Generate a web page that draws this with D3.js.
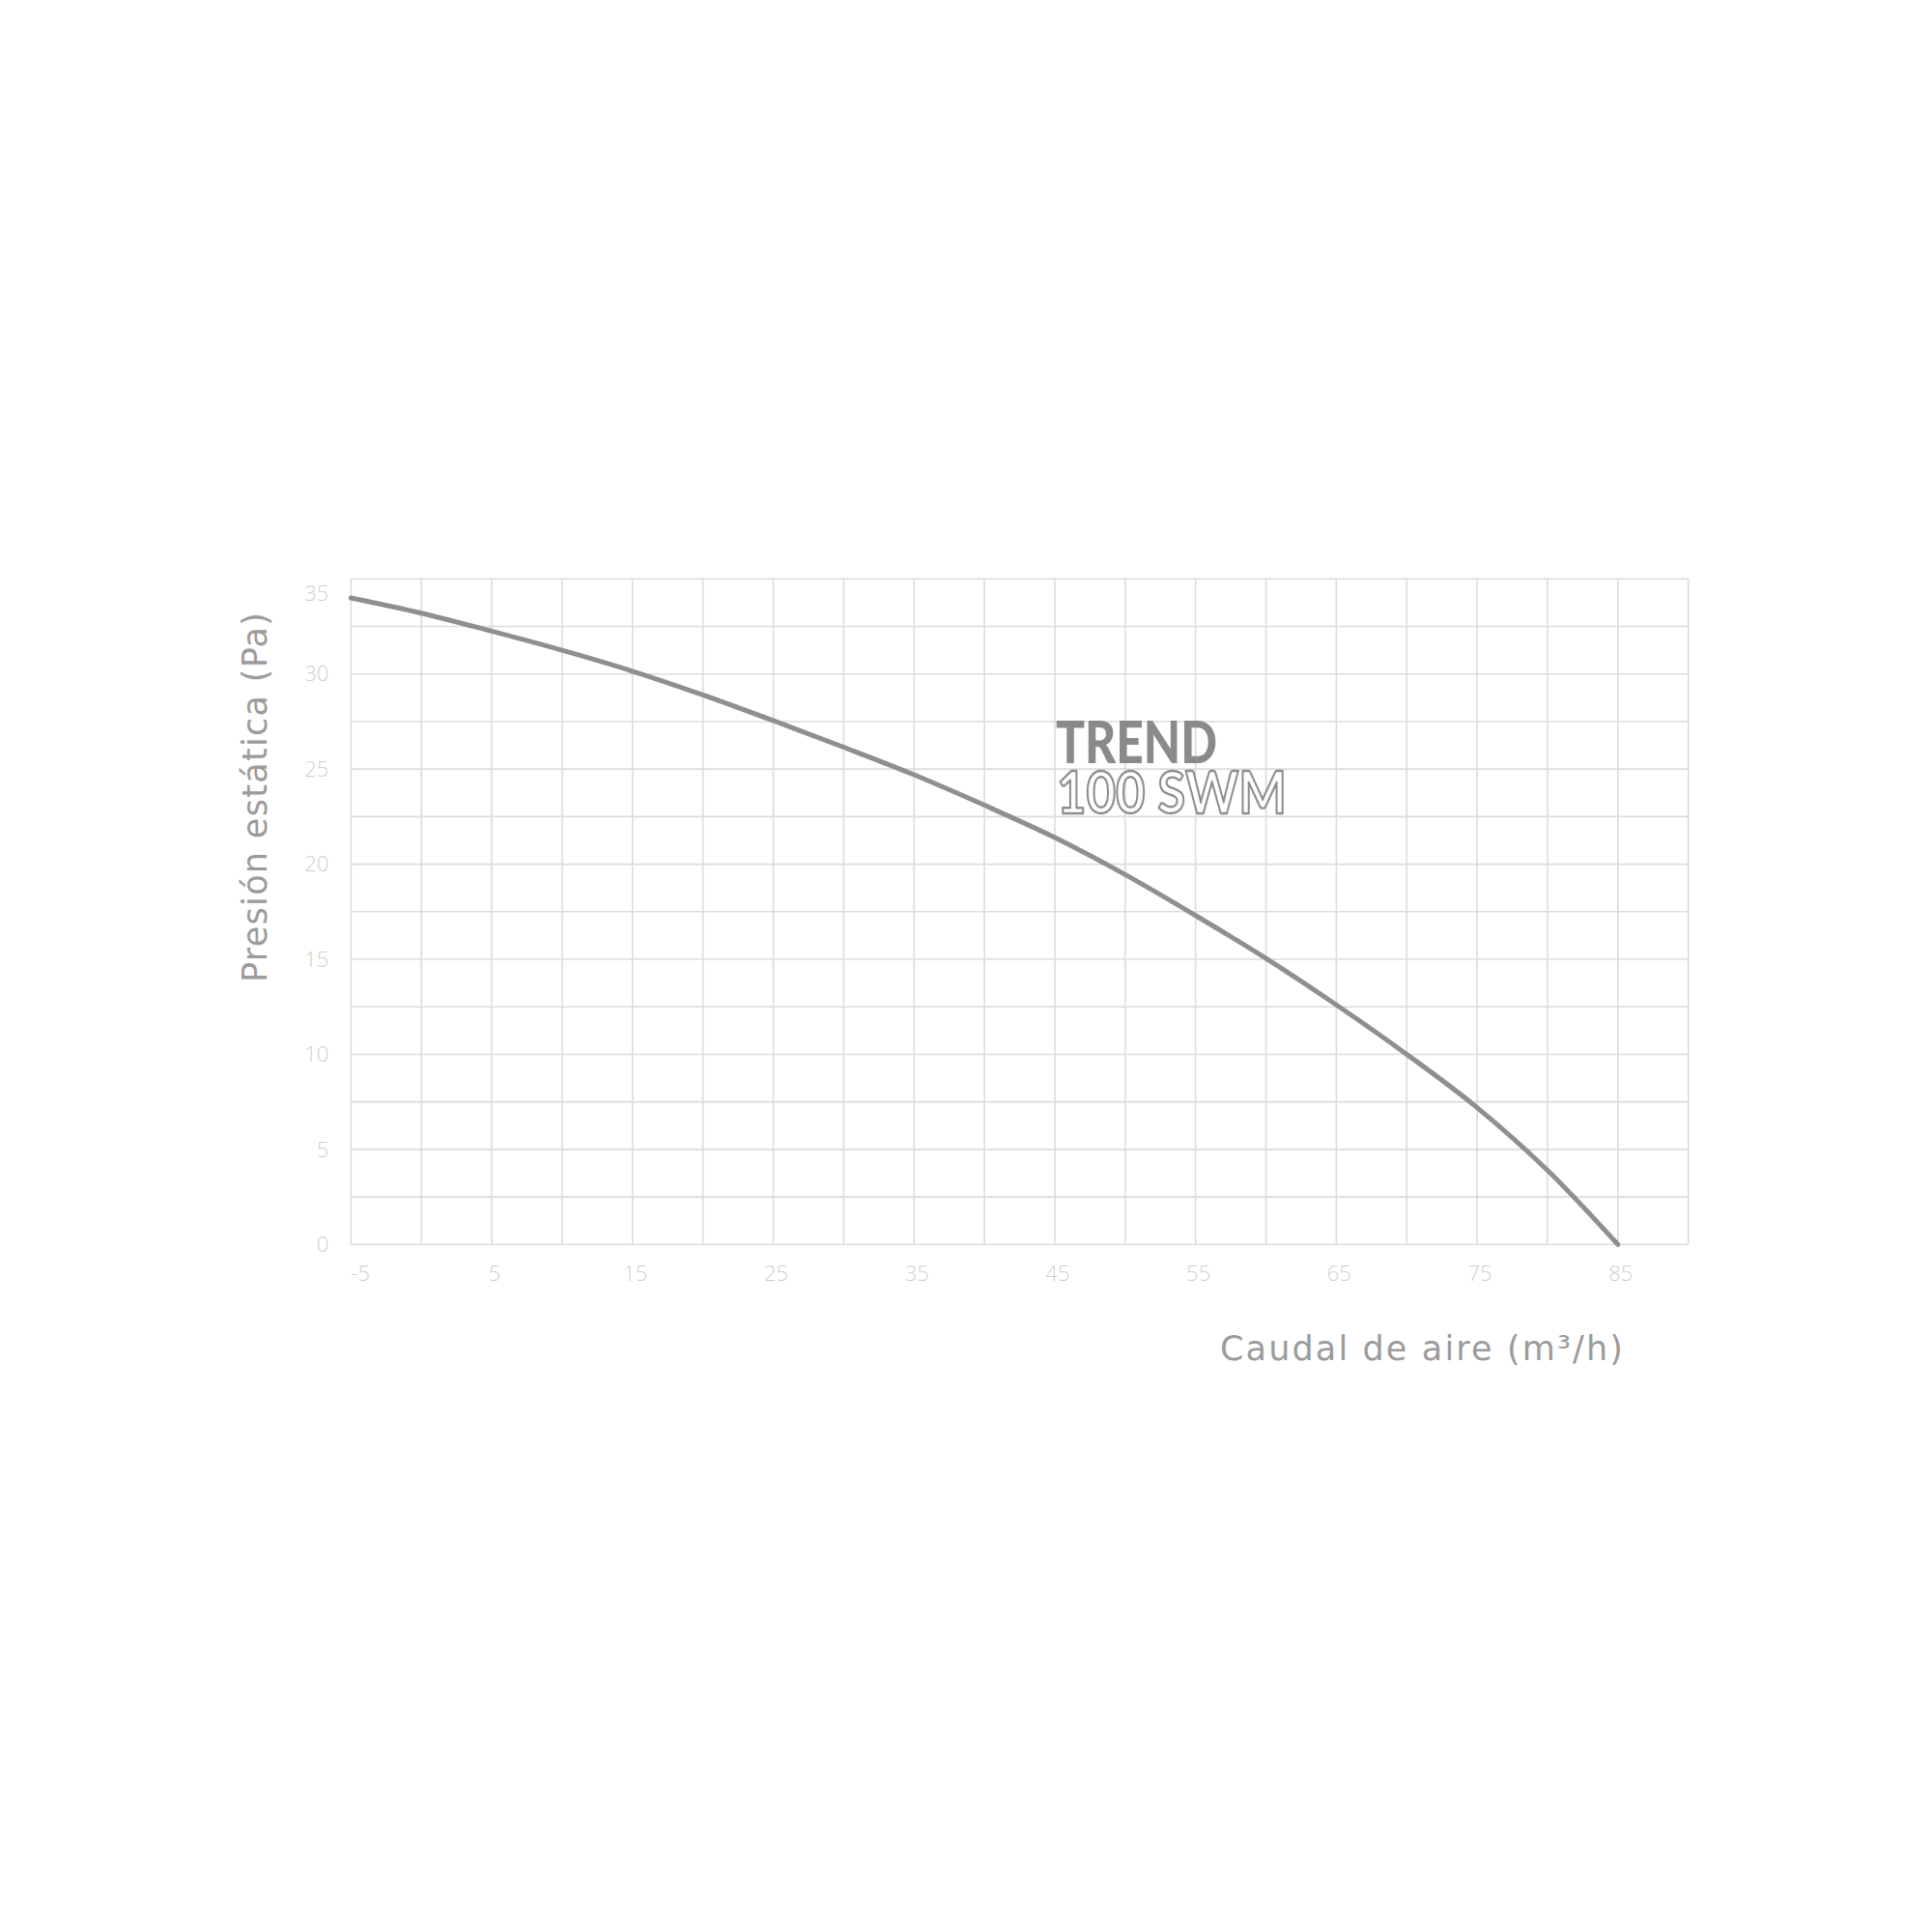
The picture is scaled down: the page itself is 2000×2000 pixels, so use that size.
<!DOCTYPE html>
<html>
<head>
<meta charset="utf-8">
<script src="https://cdn.jsdelivr.net/npm/d3@7"></script>
<style>
  html, body { margin: 0; padding: 0; background: #ffffff; }
  svg { display: block; }
</style>
</head>
<body>
<svg id="chart" width="2000" height="2000"></svg>
<script>
// ---- data ----
const flow = [-5, 0, 5, 10, 15, 20, 25, 30, 35, 40, 45, 50, 55, 60, 65, 70, 75, 80, 85];
const pressure = [34.0, 33.2, 32.25, 31.25, 30.15, 28.9, 27.55, 26.15, 24.7, 23.1, 21.4, 19.45, 17.3, 15.05, 12.6, 10.0, 7.2, 3.9, 0];
const xTickLabels = [-5, 5, 15, 25, 35, 45, 55, 65, 75, 85];
const yTickLabels = [0, 5, 10, 15, 20, 25, 30, 35];
const xGrid = d3.range(-5, 90.001, 5);
const yGrid = d3.range(0, 35.001, 2.5);
const xTitle = "Caudal de aire (m³/h)";
const yTitle = "Presión estática (Pa)";
const brandTop = "TREND";
const brandBottom = "100 SWM";

// ---- layout ----
const plotL = 363.3, plotR = 1747.7, plotT = 599.3, plotB = 1288.3;
const svg = d3.select("#chart");
svg.append("rect").attr("width", 2000).attr("height", 2000).attr("fill", "#ffffff");

const x = d3.scaleLinear().domain([-5, 90]).range([plotL, plotR]);
const y = d3.scaleLinear().domain([0, 35]).range([plotB, plotT]);

const gridColor = "#dcdcdc";
const g = svg.append("g");

// grid
g.append("g").selectAll("line").data(xGrid).join("line")
  .attr("x1", d => x(d)).attr("x2", d => x(d))
  .attr("y1", plotT).attr("y2", plotB)
  .attr("stroke", gridColor).attr("stroke-width", 1.6);
g.append("g").selectAll("line").data(yGrid).join("line")
  .attr("x1", plotL).attr("x2", plotR)
  .attr("y1", d => y(d)).attr("y2", d => y(d))
  .attr("stroke", gridColor).attr("stroke-width", 1.6);

// tick labels
const tickFont = "'Open Sans', 'Liberation Sans', Arial, sans-serif";
const tickColor = "#cfcfcf";
g.append("g").selectAll("text").data(yTickLabels).join("text")
  .attr("x", plotL - 23)
  .attr("y", d => Math.max(y(d), plotT + 15))
  .attr("dy", "0.35em")
  .attr("text-anchor", "end")
  .attr("font-family", tickFont).attr("font-weight", 300).attr("font-size", 22)
  .attr("fill", tickColor)
  .text(d => d);

g.append("g").selectAll("text").data(xTickLabels).join("text")
  .attr("x", (d, i) => i === 0 ? x(d) : x(d) + 3)
  .attr("y", plotB + 30)
  .attr("dy", "0.35em")
  .attr("text-anchor", (d, i) => i === 0 ? "start" : "middle")
  .attr("font-family", tickFont).attr("font-weight", 300).attr("font-size", 22)
  .attr("fill", tickColor)
  .text(d => d);

// curve
const pts = flow.map((f, i) => [f, pressure[i]]);
const line = d3.line().x(d => x(d[0])).y(d => y(d[1])).curve(d3.curveCatmullRom.alpha(0.5));
g.append("path").datum(pts)
  .attr("d", line)
  .attr("fill", "none")
  .attr("stroke", "#8f8f8f")
  .attr("stroke-width", 5)
  .attr("stroke-linecap", "round");

// brand watermark (one text block, two lines)
const brandFont = "Lato, 'Open Sans', 'DejaVu Sans', sans-serif";
const brand = g.append("text")
  .attr("font-family", brandFont);
brand.append("tspan")
  .attr("x", 1093).attr("y", 790)
  .attr("font-weight", 900).attr("font-size", 60)
  .attr("fill", "#8a8a8d")
  .attr("textLength", 167).attr("lengthAdjust", "spacingAndGlyphs")
  .text(brandTop);
brand.append("tspan")
  .attr("x", 1094).attr("y", 842)
  .attr("font-weight", 700).attr("font-size", 62)
  .attr("fill", "#ffffff").attr("stroke", "#8e8e8e").attr("stroke-width", 2.4)
  .attr("stroke-linejoin", "round")
  .attr("textLength", 238).attr("lengthAdjust", "spacingAndGlyphs")
  .text(brandBottom);

// axis titles
const titleFont = "'DejaVu Sans', 'Noto Sans', sans-serif";
const titleColor = "#9b9b9b";
svg.append("text")
  .attr("x", 1263).attr("y", 1408)
  .attr("font-family", titleFont).attr("font-size", 35)
  .attr("fill", titleColor)
  .attr("textLength", 417).attr("lengthAdjust", "spacing")
  .text(xTitle);

svg.append("text")
  .attr("transform", "translate(276,1017) rotate(-90)")
  .attr("x", 0).attr("y", 0)
  .attr("font-family", titleFont).attr("font-size", 35)
  .attr("fill", titleColor)
  .attr("textLength", 383).attr("lengthAdjust", "spacing")
  .text(yTitle);
</script>
</body>
</html>
